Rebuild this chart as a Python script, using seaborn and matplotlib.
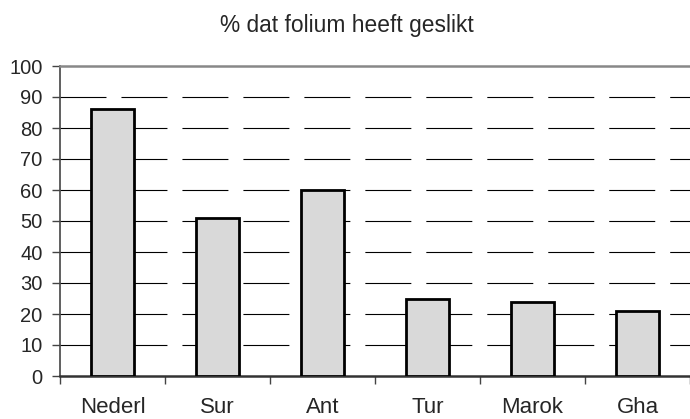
import matplotlib
matplotlib.use("Agg")
import matplotlib.pyplot as plt
import seaborn as sns
import pandas as pd

categories = ["Nederl", "Sur", "Ant", "Tur", "Marok", "Gha"]
values = [86, 51, 60, 25, 24, 21]
yticks = list(range(0, 101, 10))
title = "% dat folium heeft geslikt"

sns.set_style("white")
plt.rcParams['font.family'] = ['Liberation Sans', 'DejaVu Sans']
plt.rcParams['lines.scale_dashes'] = False

df = pd.DataFrame({"cat": categories, "val": values})

fig = plt.figure(figsize=(6.9, 4.19), dpi=100)
ax = fig.add_axes([60/690, 1-376/419, 630/690, 310/419])

sns.barplot(data=df, x="cat", y="val", ax=ax, color="#d9d9d9",
            edgecolor="black", linewidth=2, width=0.41, saturation=1, zorder=3)

ax.set_ylim(0, 100)
ax.set_xlim(-0.5, len(categories) - 0.5)
ax.set_yticks(yticks)
ax.set_yticklabels([str(t) for t in yticks], fontsize=14.5)
for t in yticks[1:-1]:
    ax.axhline(t, color="black", lw=0.8, linestyle=(0, (33.1, 10.8)), zorder=1)

ax.set_xticks([i + 0.5 for i in range(-1, len(categories))])
ax.set_xticklabels([])
ax.set_xticks(range(len(categories)), minor=True)
ax.set_xticklabels(categories, minor=True, fontsize=16)
ax.tick_params(axis="x", which="minor", length=0, pad=15.2)
ax.tick_params(axis="x", which="major", direction="out", length=6, width=1, color="#444444", bottom=True)
ax.tick_params(axis="y", direction="out", length=6, width=1, color="#444444", left=True, pad=6.5)

for s in ["left", "bottom", "top"]:
    ax.spines[s].set_visible(True)
ax.spines["right"].set_visible(False)
ax.spines["left"].set_color("#444444")
ax.spines["left"].set_linewidth(1.2)
ax.spines["bottom"].set_color("#333333")
ax.spines["bottom"].set_linewidth(1.8)
ax.spines["top"].set_color("#888888")
ax.spines["top"].set_linewidth(1.8)
ax.set_xlabel("")
ax.set_ylabel("")

fig.text(347/690, 1-31.7/419, title, ha="center", va="baseline", fontsize=16.4)

fig.savefig("out.png", dpi=100)
